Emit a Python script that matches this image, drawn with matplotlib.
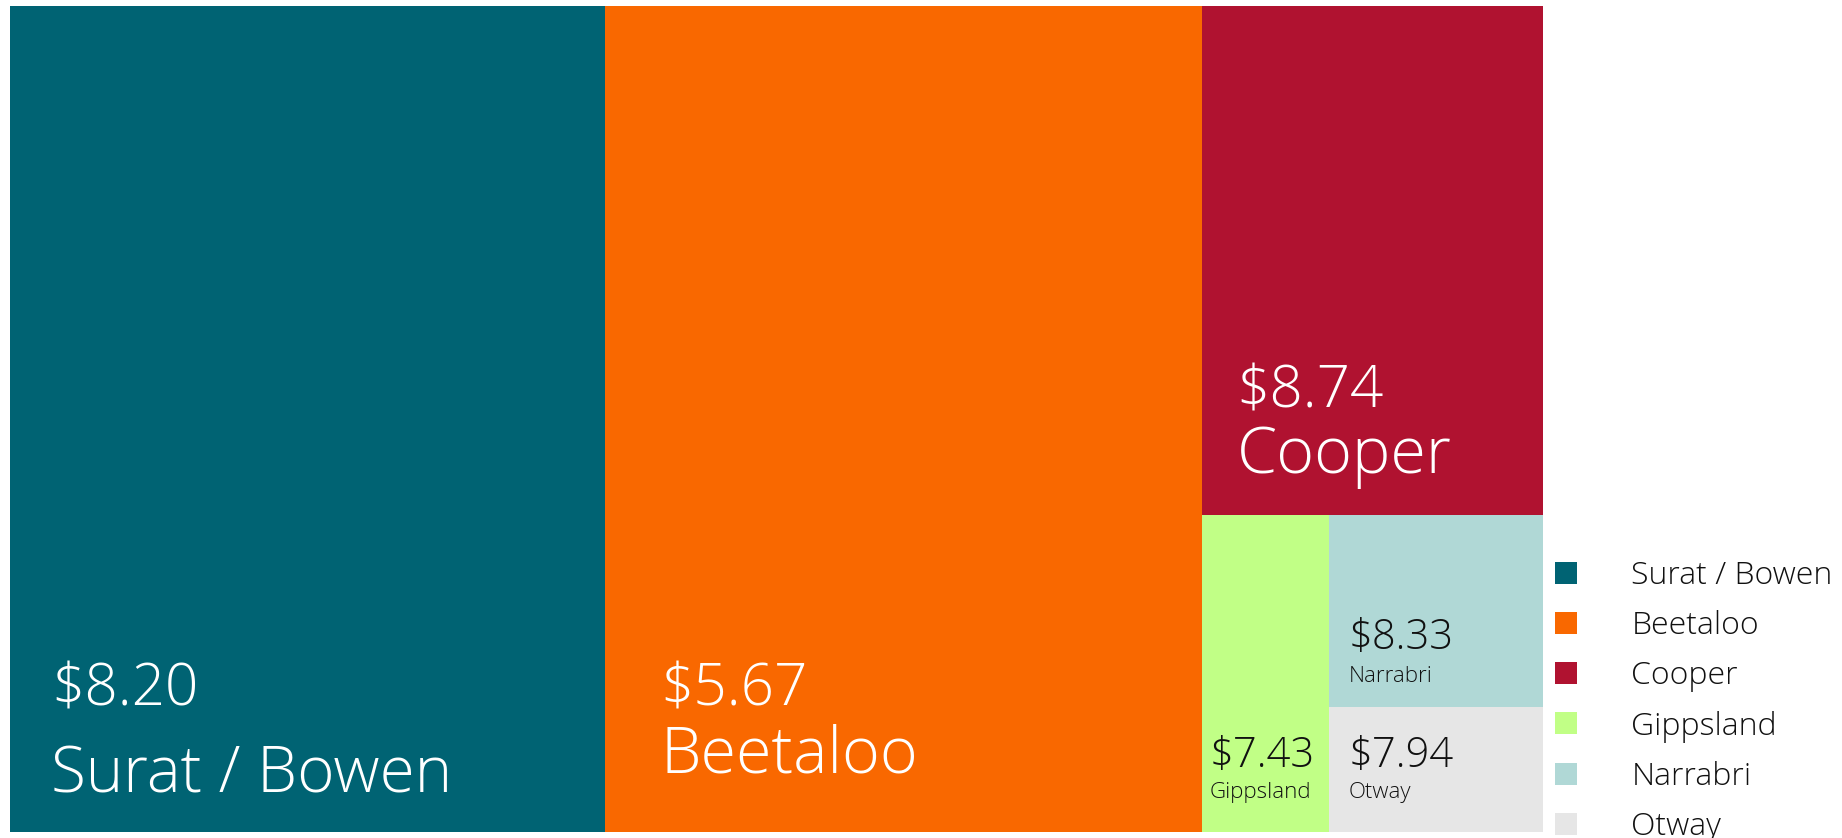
import matplotlib
matplotlib.use("Agg")
import matplotlib.pyplot as plt
from matplotlib.lines import Line2D

# Basins, shares of the treemap area (%) and the price shown in each tile
basins = ["Surat / Bowen", "Beetaloo", "Cooper", "Gippsland", "Narrabri", "Otway"]
shares = [38.8, 38.9, 13.7, 3.2, 3.25, 2.1]
prices = [8.20, 5.67, 8.74, 7.43, 8.33, 7.94]
colors = ["#006373", "#F96800", "#B01230", "#C1FF86", "#B0D8D6", "#E6E6E6"]

W, H = 1842, 838
FRAME = (10, 6, 1543, 832)  # left, top, right, bottom in pixels


def slice_layout(values, x0, y0, x1, y1):
    """Each tile takes a slice along the longer side of what is left."""
    rects = []
    total = float(sum(values))
    for v in values:
        w, h = x1 - x0, y1 - y0
        frac = v / total
        if w >= h:
            dw = w * frac
            rects.append((x0, y0, dw, h))
            x0 += dw
        else:
            dh = h * frac
            rects.append((x0, y0, w, dh))
            y0 += dh
        total -= v
    return rects


fig = plt.figure(figsize=(W / 100, H / 100), dpi=100)
ax = fig.add_axes([0, 0, 1, 1])
ax.set_xlim(0, W)
ax.set_ylim(H, 0)
ax.axis("off")

rects = slice_layout(shares, *FRAME)
for (x, y, w, h), c in zip(rects, colors):
    ax.bar(x, h, width=w, bottom=y, align="edge", color=c, linewidth=0)

font = "Open Sans"
wt = 300
# label style per tile: (dx from left, gap of name baseline above tile bottom,
#                        line pitch, price size, name size, colour)
styles = [
    (41, 40, 87, 42, 46, "white"),
    (55, 60, 67, 42, 46.5, "white"),
    (35, 42, 65, 42, 46.5, "white"),
    (8, 34, 31, 30, 16, "#111111"),
    (19, 25, 33, 30, 16, "#111111"),
    (19, 34, 31, 30, 16, "#111111"),
]
for (x, y, w, h), name, p, st in zip(rects, basins, prices, styles):
    dx, gap, pitch, s1, s2, col = st
    base = y + h - gap
    ax.text(x + dx, base, name, fontsize=s2, color=col, family=font,
            fontweight=wt, va="baseline", ha="left")
    ax.text(x + dx, base - pitch, f"${p:.2f}", fontsize=s1, color=col,
            family=font, fontweight=wt, va="baseline", ha="left")

handles = [Line2D([], [], linestyle="none", marker="s", markersize=16,
                  markerfacecolor=c, markeredgewidth=0) for c in colors]
leg = ax.legend(handles, basins, loc="upper left", bbox_to_anchor=(1550 / W, 1 - 560 / H),
                frameon=False, fontsize=23, handlelength=1.0, handletextpad=1.55,
                labelspacing=0.57, borderaxespad=0, borderpad=0)
for t in leg.get_texts():
    t.set_family(font)
    t.set_fontweight(wt)
    t.set_color("#111111")

fig.savefig("out.png", dpi=100)
